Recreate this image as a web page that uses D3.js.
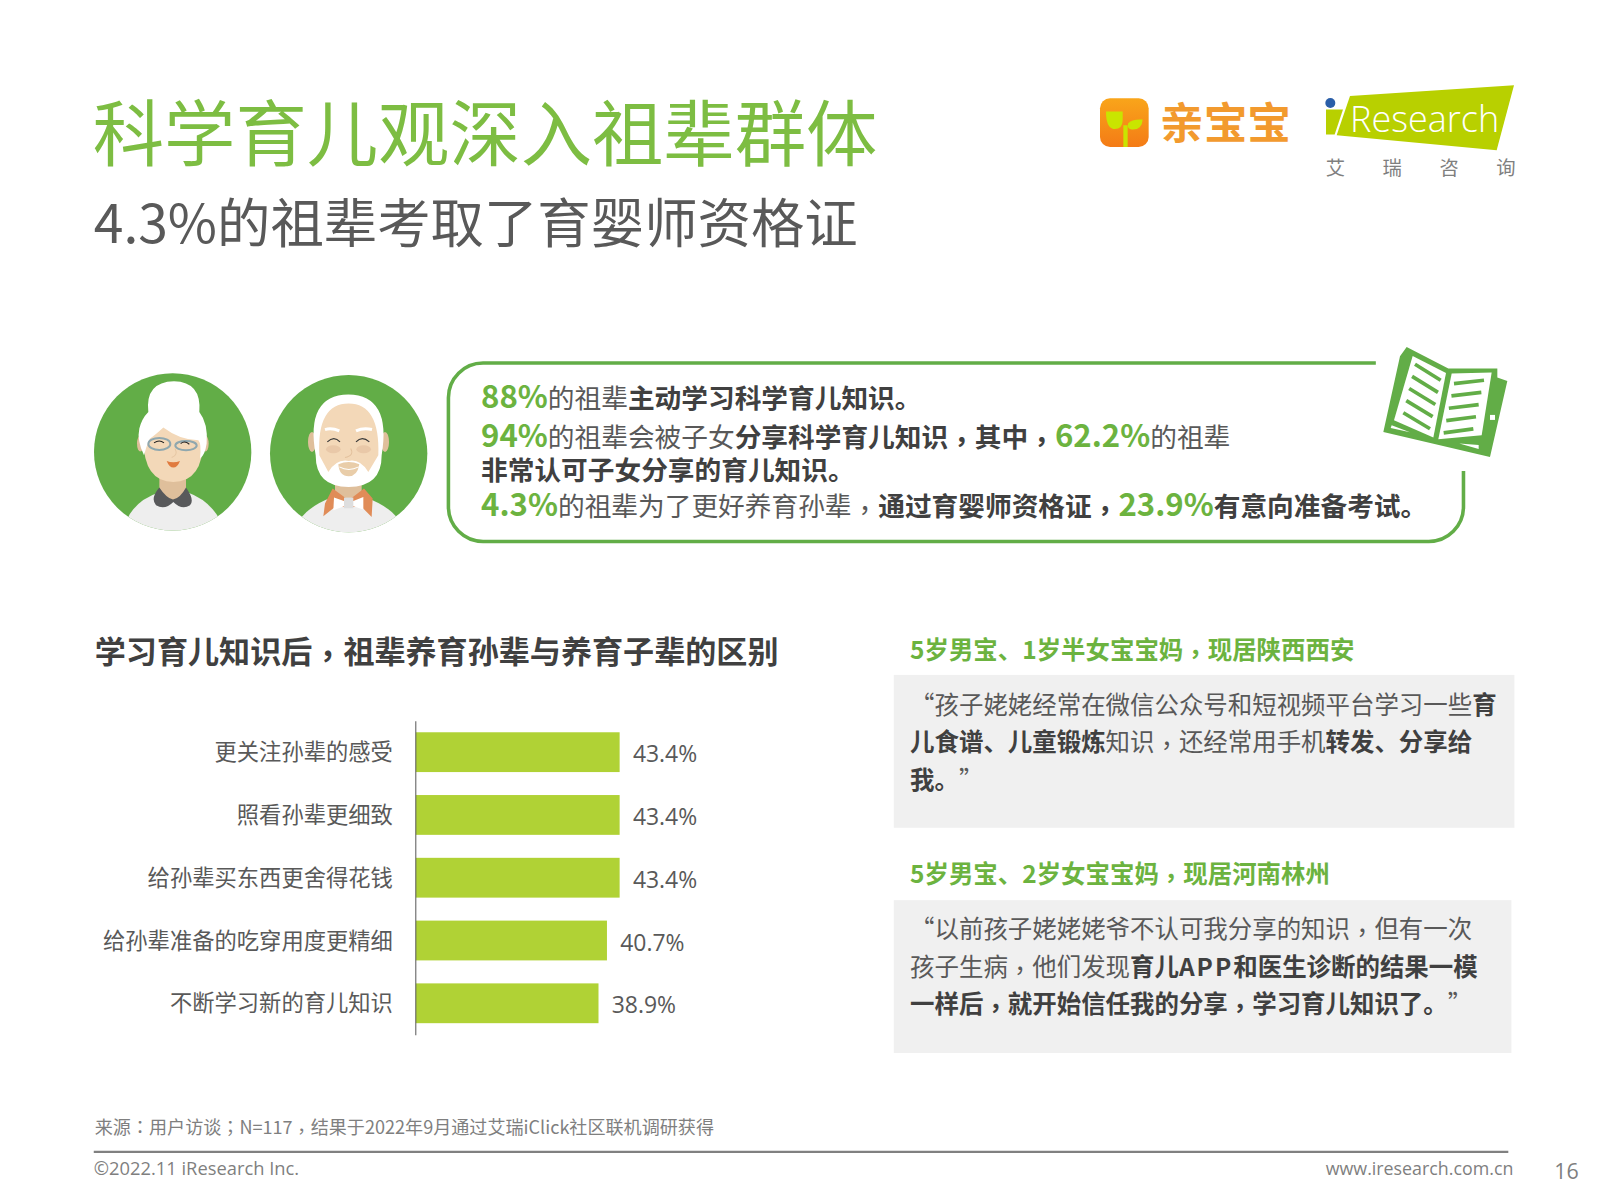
<!DOCTYPE html>
<html>
<head>
<meta charset="utf-8">
<script src="https://cdn.jsdelivr.net/npm/d3@7"></script>
<style>
  html, body { margin: 0; padding: 0; background: #fff; }
  svg { display: block; }
  text { font-family: "Noto Sans CJK SC", "Noto Sans", sans-serif; }
</style>
</head>
<body>
<script>
// chart data
const categories = ['更关注孙辈的感受', '照看孙辈更细致', '给孙辈买东西更舍得花钱', '给孙辈准备的吃穿用度更精细', '不断学习新的育儿知识'];
const values = [43.4, 43.4, 43.4, 40.7, 38.9];

// page text, r = regular, b = bold, g = green number, q = closing quote, a = latin bold
const calloutLines = [
  [['88%', 'g'], ['的祖辈', 'r'], ['主动学习科学育儿知识。', 'b']],
  [['94%', 'g'], ['的祖辈会被子女', 'r'], ['分享科学育儿知识，其中，', 'b'], ['62.2%', 'g'], ['的祖辈', 'r']],
  [['非常认可子女分享的育儿知识。', 'b']],
  [['4.3%', 'g'], ['的祖辈为了更好养育孙辈，', 'r'], ['通过育婴师资格证，', 'b'], ['23.9%', 'g'], ['有意向准备考试。', 'b']]
];
const quoteOne = [
  [['“孩子姥姥经常在微信公众号和短视频平台学习一些', 'r'], ['育', 'b']],
  [['儿食谱、儿童锻炼', 'b'], ['知识，还经常用手机', 'r'], ['转发、分享给', 'b']],
  [['我。', 'b'], ['”', 'q']]
];
const quoteTwo = [
  [['“以前孩子姥姥姥爷不认可我分享的知识，但有一次', 'r']],
  [['孩子生病，他们发现', 'r'], ['育儿', 'b'], ['APP', 'a'], ['和医生诊断的结果一模', 'b']],
  [['一样后，就开始信任我的分享，学习育儿知识了。', 'b'], ['”', 'q']]
];
const brandChars = ['艾', '瑞', '咨', '询'];

// reference layout was measured in this coordinate space
const W = 1568, H = 1176;
const svg = d3.select('body').append('svg')
  .attr('width', 1598).attr('height', 1199)
  .attr('viewBox', `0 0 ${W} ${H}`);

const GREEN = '#62ad47';
const TXT = '#595959';
const DARK = '#404040';
const runStyle = {
  r: { size: null, weight: 400, fill: TXT },
  b: { size: null, weight: 700, fill: DARK },
  g: { size: 30.6, weight: 700, fill: '#6cb33f' },
  q: { size: null, weight: 400, fill: TXT, dx: 12 },
  a: { size: null, weight: 700, fill: DARK, spacing: 2 }
};

// centred full-width punctuation comes from the TC cut, commas nudged down a little
let drop = 0;
function addSegments(t, str) {
  str.split(/([，；：])/).filter(s => s).forEach(s => {
    const sp = t.append('tspan').text(s);
    const isPunct = /^[，；：]$/.test(s);
    if (isPunct) sp.style('font-family', '"Noto Sans CJK TC"');
    if (s === '，') {
      sp.attr('dy', 4 - drop);
      drop = 4;
    } else if (drop) {
      sp.attr('dy', -drop);
      drop = 0;
    }
  });
}

function put(x, y, str, size, fill, weight, anchor) {
  drop = 0;
  const t = svg.append('text').attr('x', x).attr('y', y)
    .attr('font-size', size).attr('fill', fill)
    .attr('font-weight', weight || 400)
    .attr('text-anchor', anchor || 'start');
  addSegments(t, str);
  return t;
}

function putRuns(x, y, runs, size) {
  drop = 0;
  const t = svg.append('text').attr('x', x).attr('y', y);
  runs.forEach(([s, k]) => {
    const st = runStyle[k];
    const g = t.append('tspan')
      .attr('font-size', st.size || size)
      .attr('font-weight', st.weight)
      .attr('fill', st.fill);
    if (st.dx) g.attr('dx', st.dx);
    if (st.spacing) g.attr('letter-spacing', st.spacing);
    addSegments(g, s);
  });
}

// titles
put(91, 157, '科学育儿观深入祖辈群体', 70, '#7dbd42', 400);
put(92, 238, '4.3%的祖辈考取了育婴师资格证', 52.4, '#595959', 400);

// callout frame
svg.append('path')
  .attr('d', 'M1350,356 H474 A34,34 0 0 0 440,390 V497 A34,34 0 0 0 474,531 H1402 A34,34 0 0 0 1436,497 V462')
  .attr('fill', 'none').attr('stroke', GREEN).attr('stroke-width', 3.5);

[400, 438, 471, 506].forEach((y, i) => putRuns(472, y, calloutLines[i], 26.2));

// bar chart
put(93, 650, '学习育儿知识后，祖辈养育孙辈与养育子辈的区别', 30.5, DARK, 700);

const x = d3.scaleLinear().domain([0, 43.4]).range([408, 608]);
const y = d3.scaleBand().domain(categories).range([707, 1015]).paddingInner(0.366).paddingOuter(0.183);

svg.selectAll('rect.bar').data(values).enter().append('rect')
  .attr('class', 'bar')
  .attr('x', x(0))
  .attr('y', (d, i) => y(categories[i]))
  .attr('width', d => x(d) - x(0))
  .attr('height', y.bandwidth())
  .attr('fill', '#b0d235');

const yAxis = d3.axisLeft(y).tickSize(0).tickPadding(22);
const yg = svg.append('g').attr('transform', `translate(${x(0) - 0.5},0)`).call(yAxis);
yg.select('.domain').attr('stroke', '#595959').attr('stroke-width', 1);
yg.selectAll('text').attr('font-size', 21.9).attr('fill', TXT).attr('dy', '0.36em').attr('font-family', '"Noto Sans CJK SC"');

svg.selectAll('text.val').data(values).enter().append('text')
  .attr('class', 'val')
  .attr('x', d => x(d) + 13)
  .attr('y', (d, i) => y(categories[i]) + y.bandwidth() / 2 + 10)
  .attr('font-size', 22.5).attr('fill', TXT)
  .style('font-family', '"Open Sans"')
  .text(d => d.toFixed(1) + '%');

// quotes
put(893, 646, '5岁男宝、1岁半女宝宝妈，现居陕西西安', 24, '#6cb33f', 700);
svg.append('rect').attr('x', 877).attr('y', 662).attr('width', 609).attr('height', 150).attr('fill', '#f0f0f0');
[700, 737, 774].forEach((yy, i) => putRuns(893, yy, quoteOne[i], 24));

put(893, 866, '5岁男宝、2岁女宝宝妈，现居河南林州', 24, '#6cb33f', 700);
svg.append('rect').attr('x', 877).attr('y', 883).attr('width', 606).attr('height', 150).attr('fill', '#f0f0f0');
[920, 957, 994].forEach((yy, i) => putRuns(893, yy, quoteTwo[i], 24));

// footer
put(93, 1112, '来源：用户访谈；N=117，结果于2022年9月通过艾瑞iClick社区联机调研获得', 17.75, '#7f7f7f');
svg.append('line').attr('x1', 92).attr('x2', 1480).attr('y1', 1130).attr('y2', 1130)
  .attr('stroke', '#808080').attr('stroke-width', 2);
put(92, 1153, '©2022.11 iResearch Inc.', 18, '#7f7f7f').style('font-family', '"Open Sans"');
put(1485, 1153, 'www.iresearch.com.cn', 17.5, '#7f7f7f', 400, 'end').style('font-family', '"Open Sans"');
put(1549, 1157, '16', 21, '#7f7f7f', 400, 'end').style('font-family', '"Open Sans"');

// illustrations below use the 3x crop pixel space, mapped back to the page
const K = W / 1598;
function layer(ox, oy) {
  return svg.append('g').attr('transform', `scale(${K}) translate(${ox},${oy}) scale(${1 / 3})`);
}
const defs = svg.append('defs');
defs.append('clipPath').attr('id', 'clipA').append('circle').attr('cx', 338).attr('cy', 335).attr('r', 236);
defs.append('clipPath').attr('id', 'clipB').append('circle').attr('cx', 866).attr('cy', 340).attr('r', 236);

const av = layer(60, 340);
const SKIN = '#f3d8b8', NECK = '#dfbf9b';

// grandmother
av.append('circle').attr('cx', 338).attr('cy', 335).attr('r', 236).attr('fill', GREEN);
const gm = av.append('g').attr('clip-path', 'url(#clipA)');
gm.append('path').attr('d', 'M200,540 Q225,480 300,455 H380 Q450,480 480,540 V590 H200 Z').attr('fill', '#eeeeee');
gm.append('path').attr('d', 'M298,390 H378 V470 Q338,500 298,470 Z').attr('fill', NECK);
gm.append('path').attr('d', 'M298,442 Q320,475 339,478 Q360,475 378,442 Q405,480 390,495 Q365,510 340,485 Q315,510 288,495 Q270,475 298,442 Z').attr('fill', '#58595b');
gm.append('ellipse').attr('cx', 241).attr('cy', 310).attr('rx', 10).attr('ry', 24).attr('fill', NECK);
gm.append('ellipse').attr('cx', 436).attr('cy', 310).attr('rx', 10).attr('ry', 24).attr('fill', NECK);
gm.append('path').attr('d', 'M250,300 Q252,425 340,425 Q428,425 430,300 Q430,230 340,230 Q250,230 250,300 Z').attr('fill', SKIN);
gm.append('path').attr('d', 'M265,215 Q255,125 342,123 Q425,125 418,215 Q445,250 440,310 Q435,345 420,355 Q425,310 415,300 Q360,300 310,262 Q285,285 270,295 Q258,320 252,345 Q230,300 238,265 Q245,235 265,215 Z').attr('fill', '#fff');
gm.append('ellipse').attr('cx', 298).attr('cy', 311).attr('rx', 33).attr('ry', 18).attr('fill', 'none').attr('stroke', '#8fa7ae').attr('stroke-width', 6);
gm.append('ellipse').attr('cx', 378).attr('cy', 316).attr('rx', 32).attr('ry', 14).attr('fill', 'none').attr('stroke', '#8fa7ae').attr('stroke-width', 6);
gm.append('path').attr('d', 'M282,308 Q298,296 312,308 M362,310 Q374,300 388,312').attr('fill', 'none').attr('stroke', '#222').attr('stroke-width', 3);
gm.append('path').attr('d', 'M320,362 Q340,370 360,362 Q352,382 340,382 Q328,382 320,362 Z').attr('fill', '#e07b3f');
gm.append('path').attr('d', 'M345,325 Q355,345 335,352').attr('fill', 'none').attr('stroke', '#e6c6a3').attr('stroke-width', 3);

// grandfather
av.append('circle').attr('cx', 866).attr('cy', 340).attr('r', 236).attr('fill', GREEN);
const gf = av.append('g').attr('clip-path', 'url(#clipB)');
gf.append('path').attr('d', 'M725,530 Q760,490 820,470 H910 Q975,490 1010,530 V590 H725 Z').attr('fill', '#eeeeee');
gf.append('path').attr('d', 'M825,420 H905 V475 H825 Z').attr('fill', NECK);
gf.append('path').attr('d', 'M818,445 L866,480 L912,445 L938,475 L935,530 L905,500 H825 L790,528 L795,490 Z').attr('fill', '#e08c58');
gf.append('path').attr('d', 'M822,472 L852,482 H880 L910,470 V508 L880,498 H852 L820,510 Z').attr('fill', '#fff');
gf.append('rect').attr('x', 852).attr('y', 472).attr('width', 28).attr('height', 32).attr('fill', '#dedede');
gf.append('ellipse').attr('cx', 756).attr('cy', 305).attr('rx', 12).attr('ry', 30).attr('fill', NECK);
gf.append('ellipse').attr('cx', 975).attr('cy', 305).attr('rx', 12).attr('ry', 30).attr('fill', NECK);
gf.append('path').attr('d', 'M767,345 Q735,165 865,163 Q995,165 965,345 Q965,440 866,440 Q767,440 767,345 Z').attr('fill', '#fff');
gf.append('path').attr('d', 'M778,345 Q770,190 866,190 Q960,190 955,345 L925,395 Q900,355 866,362 Q830,355 805,395 Z').attr('fill', SKIN);
gf.append('path').attr('d', 'M795,268 Q815,262 838,272 M888,272 Q910,262 936,268').attr('fill', 'none').attr('stroke', '#fff').attr('stroke-width', 9);
gf.append('path').attr('d', 'M802,305 Q822,285 840,305 M888,305 Q906,285 928,305').attr('fill', 'none').attr('stroke', '#3a3a3a').attr('stroke-width', 3.5);
gf.append('ellipse').attr('cx', 820).attr('cy', 327).attr('rx', 22).attr('ry', 12).attr('fill', '#e9c8a8');
gf.append('ellipse').attr('cx', 911).attr('cy', 327).attr('rx', 22).attr('ry', 12).attr('fill', '#e9c8a8');
gf.append('path').attr('d', 'M835,372 Q866,358 898,372 Q892,408 866,408 Q838,408 835,372 Z').attr('fill', '#e9cda9');
gf.append('path').attr('d', 'M838,380 Q866,395 896,380').attr('fill', 'none').attr('stroke', '#fff').attr('stroke-width', 3);
gf.append('path').attr('d', 'M872,325 Q884,345 855,352').attr('fill', 'none').attr('stroke', '#e3c19d').attr('stroke-width', 3);

// book icon
const bk = layer(1370, 340);
bk.append('path').attr('d', 'M110,20 L235,85 H382 V112 L412,122 L360,350 L40,275 L90,48 Z').attr('fill', GREEN);
bk.append('path').attr('d', 'M128,47 L228,98 L190,292 L72,240 Z').attr('fill', '#fff');
bk.append('path').attr('d', 'M245,100 L365,97 L335,285 L205,297 Z').attr('fill', '#fff');
bk.append('path').attr('d', 'M65,255 L120,276 L62,263 Z M268,310 L326,314 V326 Z').attr('fill', '#fff');
d3.range(5).forEach(i => {
  bk.append('line')
    .attr('x1', 135 - i * 8.75).attr('y1', 72 + i * 36.4)
    .attr('x2', 212 - i * 8).attr('y2', 120 + i * 36.4)
    .attr('stroke', GREEN).attr('stroke-width', 11);
  bk.append('line')
    .attr('x1', 252 - i * 7.75).attr('y1', 130 + i * 37)
    .attr('x2', 342 - i * 8).attr('y2', 120 + i * 36.5)
    .attr('stroke', GREEN).attr('stroke-width', 11);
});
bk.append('rect').attr('x', 360).attr('y', 224).attr('width', 15).attr('height', 15).attr('fill', '#fff');

// 亲宝宝 logo
const grad = defs.append('linearGradient').attr('id', 'logoGrad').attr('x1', 0).attr('y1', 0).attr('x2', 0).attr('y2', 1);
grad.append('stop').attr('offset', 0).attr('stop-color', '#f9a51a');
grad.append('stop').attr('offset', 1).attr('stop-color', '#f47b16');
const lg = layer(1060, 70);
lg.append('rect').attr('x', 120).attr('y', 84).attr('width', 146).attr('height', 146).attr('rx', 30).attr('fill', 'url(#logoGrad)');
lg.append('path').attr('d', 'M138,124 H188 V150 Q188,178 160,176 Q138,172 138,124 Z').attr('fill', '#c9e500');
lg.append('path').attr('d', 'M204,160 Q215,146 248,148 Q246,180 215,178 Q206,176 204,170 Z').attr('fill', '#c9e500');
lg.append('rect').attr('x', 190).attr('y', 165).attr('width', 13).attr('height', 65).attr('fill', '#c9e500');
lg.append('text').attr('x', 300).attr('y', 207).text('亲宝宝')
  .attr('font-size', 131).attr('font-weight', 700).attr('fill', '#f29a2e');

// iResearch logo
const ir = layer(1300, 75);
ir.append('path').attr('d', 'M150,62 L642,30 L590,225 L110,180 Z').attr('fill', '#b8d000');
ir.append('path').attr('d', 'M78,103 H129 L104,178 H78 Z').attr('fill', '#b8d000');
ir.append('circle').attr('cx', 91).attr('cy', 83).attr('r', 15).attr('fill', '#2a5ea8');
ir.append('text').attr('x', 150).attr('y', 169).text('Research')
  .attr('font-size', 108).attr('font-weight', 300).attr('fill', '#fff')
  .style('font-family', '"Open Sans"');
brandChars.forEach((c, i) => {
  ir.append('text').attr('x', 77 + i * 170.6).attr('y', 298).text(c)
    .attr('font-size', 58).attr('fill', '#7f7f7f');
});
</script>
</body>
</html>
